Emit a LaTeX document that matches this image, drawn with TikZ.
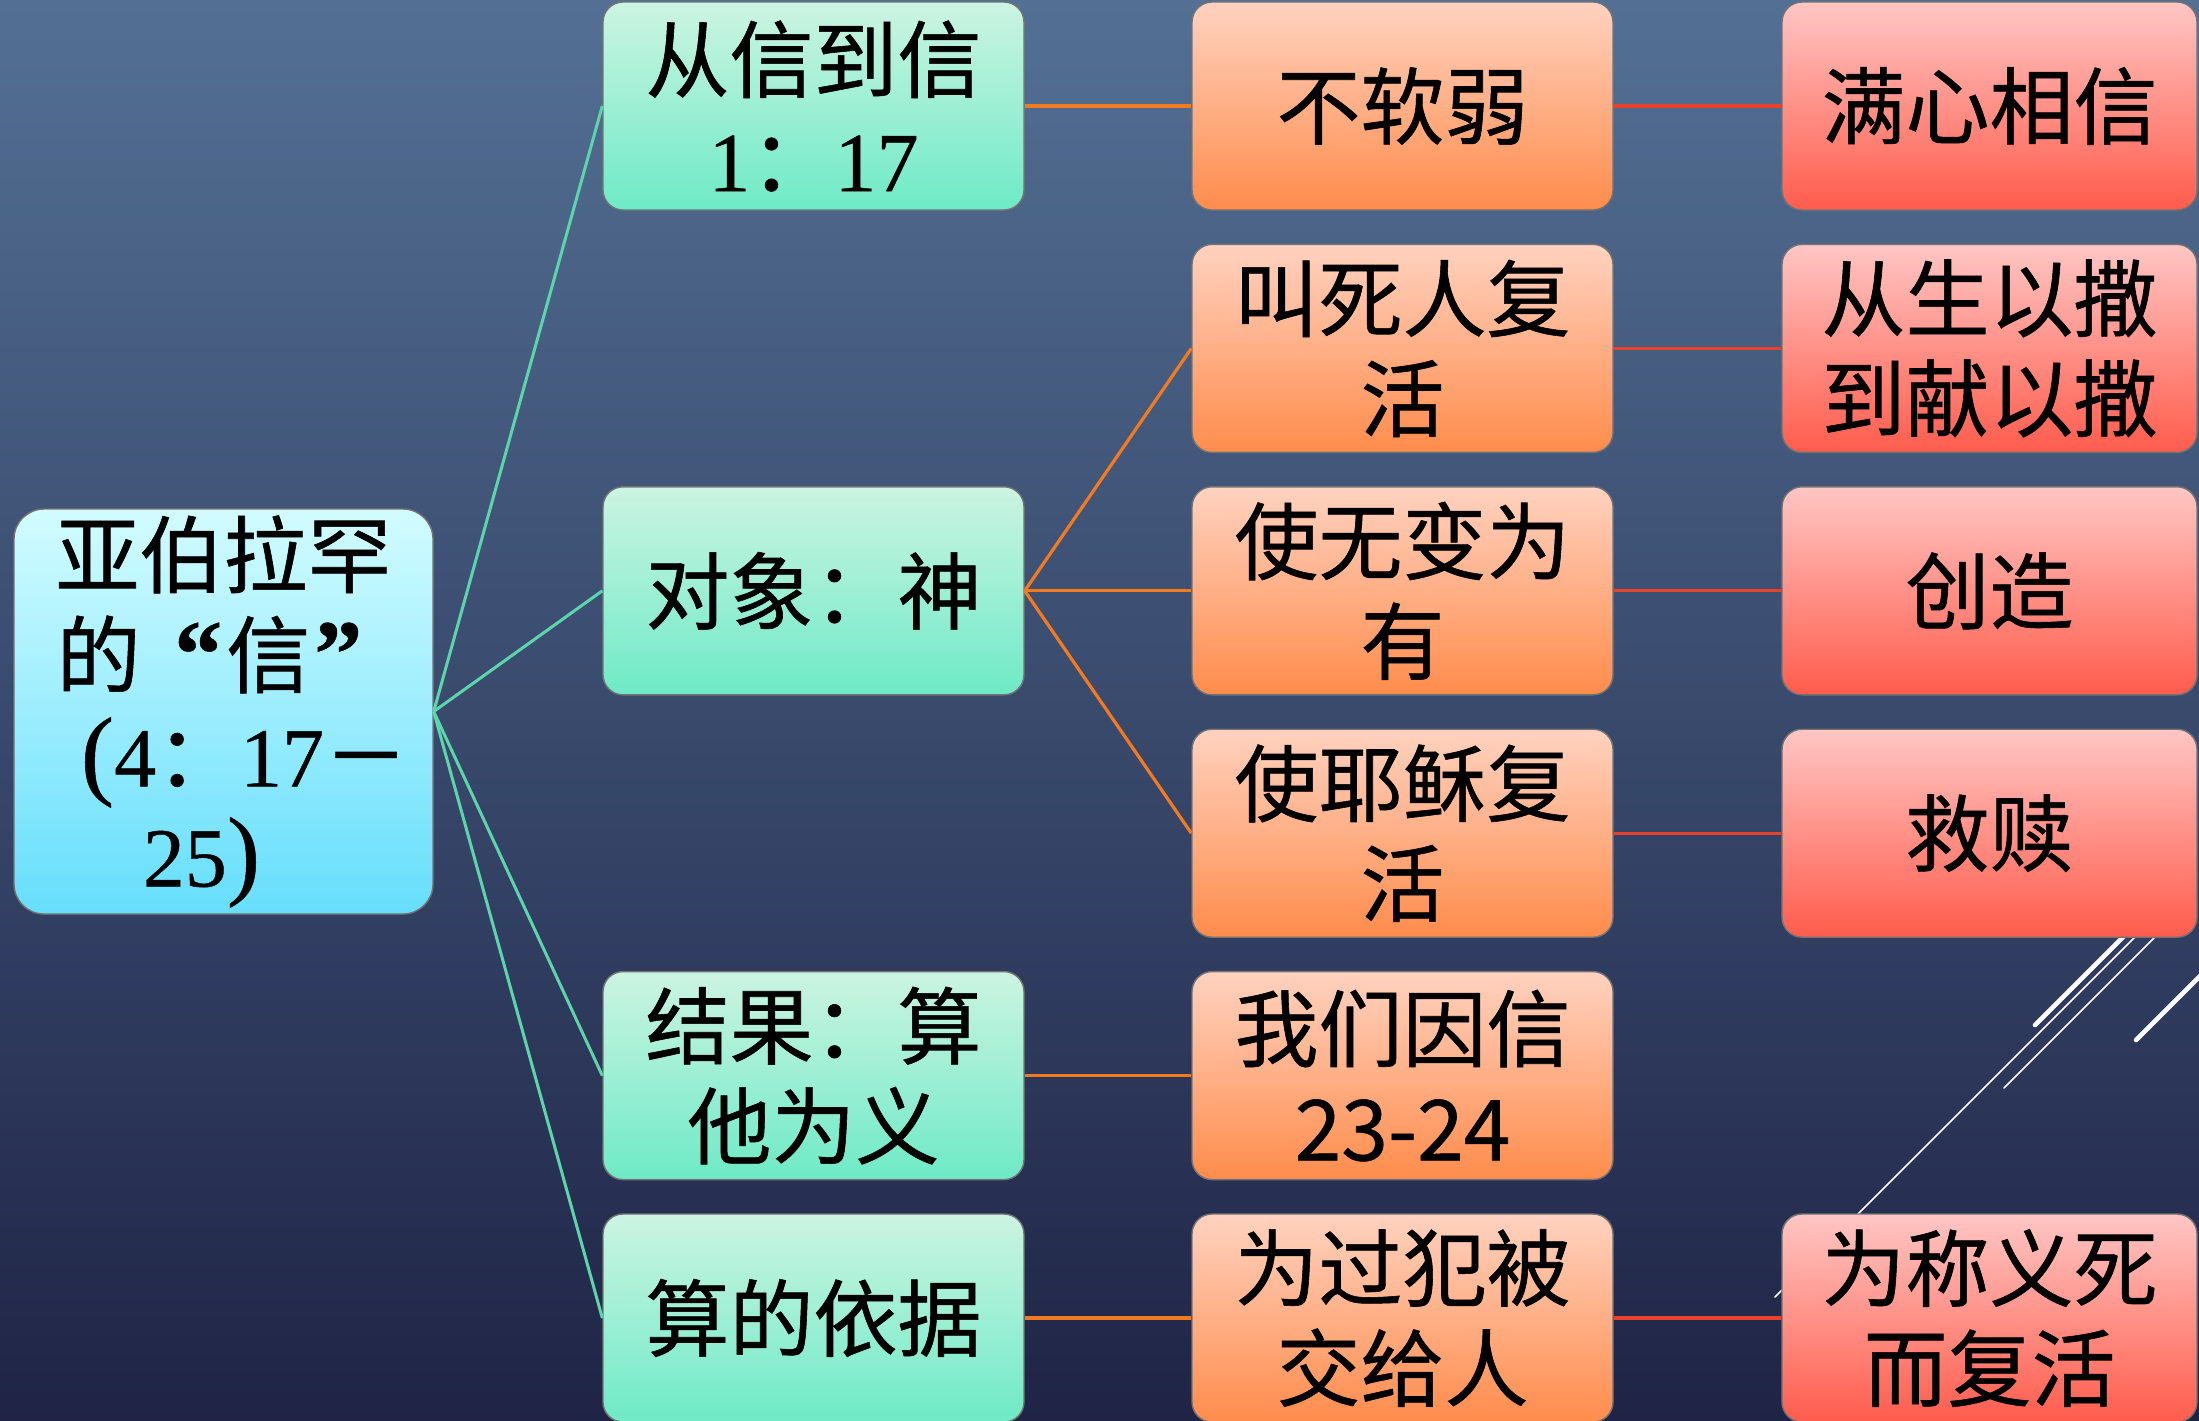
\documentclass[tikz,border=0pt]{standalone}
\usepackage{fontspec}
\newfontfamily\cjk[FakeBold=0.7]{Noto Sans CJK SC}
\newfontfamily\ser[FakeBold=0.5]{Liberation Serif}
\definecolor{bgtop}{RGB}{83,112,148}
\definecolor{bgbot}{RGB}{31,36,70}
\definecolor{rootT}{RGB}{210,252,255}
\definecolor{rootB}{RGB}{102,222,252}
\definecolor{gT}{RGB}{204,244,226}
\definecolor{gB}{RGB}{110,234,198}
\definecolor{oT}{RGB}{255,210,192}
\definecolor{oB}{RGB}{255,140,76}
\definecolor{rT}{RGB}{255,198,196}
\definecolor{rB}{RGB}{255,92,76}
\definecolor{tealc}{RGB}{92,212,172}
\definecolor{orangec}{RGB}{244,122,32}
\definecolor{redc}{RGB}{232,66,42}
\tikzset{
  nodebase/.style={draw=black!55, line width=0.7pt, rounded corners=10pt,
    minimum width=210.5pt, minimum height=104pt, inner sep=0pt, align=center,
    text=black, font=\cjk\fontsize{42pt}{50pt}\selectfont},
  rootbox/.style={nodebase, top color=rootT, bottom color=rootB, rounded corners=15pt,
    minimum width=209.5pt, minimum height=202.5pt},
  greenbox/.style={nodebase, top color=gT, bottom color=gB},
  orangebox/.style={nodebase, top color=oT, bottom color=oB},
  redbox/.style={nodebase, top color=rT, bottom color=rB, minimum width=207.5pt},
  tealline/.style={draw=tealc, line width=1.5pt},
  orangeline/.style={draw=orangec, line width=1.6pt},
  redline/.style={draw=redc, line width=1.6pt},
  decothick/.style={draw=white, line width=2.3pt, line cap=round},
  decothin/.style={draw=white, line width=0.8pt, line cap=round}
}
\newcommand{\bigparen}[1]{{\ser\fontsize{50pt}{50pt}\selectfont #1}}
\newcommand{\bigquote}[1]{{\ser\bfseries\fontsize{48pt}{50pt}\selectfont #1}}
\begin{document}
\begin{tikzpicture}[x=0.5pt,y=-0.5pt]
\useasboundingbox (0,0) rectangle (2199,1420);
\clip (0,0) rectangle (2199,1420);
\fill[top color=bgtop, bottom color=bgbot] (0,0) rectangle (2199,1420);
% decorative template lines
\draw[decothick] (2035,1025) -- (2140,920);
\draw[decothin] (1775,1297) -- (2145,927);
\draw[decothin] (2004,1088) -- (2160,932);
\draw[decothick] (2136,1040) -- (2212,964);
% root
\node[rootbox] (root) at (223.5,711.5)
  {亚伯拉罕\\的\hspace{0.4em}\bigquote{“}\kern2pt信\kern2pt\bigquote{”}\kern14pt\\\hspace{0.5em}\bigparen{(}{\ser 4}：{\ser 17}－\\{\ser 25}\bigparen{)}\kern22pt};
% column 2
\node[greenbox] (a1) at (813.5,106) {从信到信\\{\ser 1}：{\ser 17}};
\node[greenbox] (a3) at (813.5,590.8) {对象：神};
\node[greenbox] (a5) at (813.5,1075.6) {结果：算\\他为义};
\node[greenbox] (a6) at (813.5,1318) {算的依据};
% column 3
\node[orangebox] (b1) at (1402.5,106) {不软弱};
\node[orangebox] (b2) at (1402.5,348.4) {叫死人复\\活};
\node[orangebox] (b3) at (1402.5,590.8) {使无变为\\有};
\node[orangebox] (b4) at (1402.5,833.2) {使耶稣复\\活};
\node[orangebox] (b5) at (1402.5,1075.6) {我们因信\\23-24};
\node[orangebox] (b6) at (1402.5,1318) {为过犯被\\交给人};
% column 4
\node[redbox] (c1) at (1989.5,106) {满心相信};
\node[redbox] (c2) at (1989.5,348.4) {从生以撒\\到献以撒};
\node[redbox] (c3) at (1989.5,590.8) {创造};
\node[redbox] (c4) at (1989.5,833.2) {救赎};
\node[redbox] (c6) at (1989.5,1318) {为称义死\\而复活};
% connectors
\draw[tealline] (root.east) -- (a1.west);
\draw[tealline] (root.east) -- (a3.west);
\draw[tealline] (root.east) -- (a5.west);
\draw[tealline] (root.east) -- (a6.west);
\draw[orangeline] (a1.east) -- (b1.west);
\draw[orangeline] (a3.east) -- (b2.west);
\draw[orangeline] (a3.east) -- (b3.west);
\draw[orangeline] (a3.east) -- (b4.west);
\draw[orangeline] (a5.east) -- (b5.west);
\draw[orangeline] (a6.east) -- (b6.west);
\draw[redline] (b1.east) -- (c1.west);
\draw[redline] (b2.east) -- (c2.west);
\draw[redline] (b3.east) -- (c3.west);
\draw[redline] (b4.east) -- (c4.west);
\draw[redline] (b6.east) -- (c6.west);
\end{tikzpicture}
\end{document}
